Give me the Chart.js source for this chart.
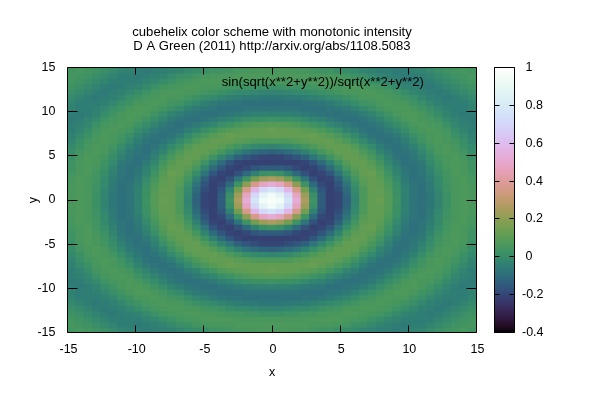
<!DOCTYPE html>
<html>
<head>
<meta charset="utf-8">
<title>cubehelix</title>
<script src="https://cdn.jsdelivr.net/npm/chart.js"></script>
<style>
    html, body { margin: 0; background: #fff; }
    canvas { position: absolute; left: 0; top: 0; }
</style>
</head>
<body>
<canvas id="mapChart" width="600" height="400"></canvas>
<canvas id="barChart" width="600" height="400"></canvas>
<script>
const titleLines = ['cubehelix color scheme with monotonic intensity', 'D A Green (2011) http://arxiv.org/abs/1108.5083'];
const keyLabel = 'sin(sqrt(x**2+y**2))/sqrt(x**2+y**2)';
const xTicks = [-15, -10, -5, 0, 5, 10, 15];
const yTicks = [-15, -10, -5, 0, 5, 10, 15];
const cbTicks = [-0.4, -0.2, 0, 0.2, 0.4, 0.6, 0.8, 1];
const cbRange = [-0.4, 1];

// cell values, centre cell first, going out to the top right
// corner. the picture is symmetric so the other three quarters are mirrored below
const quarter = [
    [.97, .94, .77, .53, .26, .03, -.14, -.21, -.20, -.13, -.03, .07, .12, .13, .09, .03, -.04, -.08, -.09, -.07, -.03, .02, .06, .07, .06],
    [.94, .87, .71, .48, .23, .01, -.14, -.21, -.20, -.12, -.02, .07, .12, .12, .09, .02, -.04, -.08, -.09, -.07, -.03, .02, .06, .07, .06],
    [.77, .71, .57, .36, .15, -.04, -.16, -.21, -.18, -.10, -.01, .07, .12, .12, .08, .02, -.04, -.08, -.09, -.06, -.02, .03, .06, .07, .06],
    [.53, .48, .36, .20, .03, -.11, -.19, -.21, -.16, -.08, .01, .09, .12, .11, .07, .01, -.05, -.08, -.09, -.06, -.01, .03, .06, .07, .05],
    [.26, .23, .15, .03, -.08, -.17, -.21, -.20, -.13, -.04, .04, .10, .12, .10, .05, -.01, -.06, -.09, -.08, -.05, -.01, .04, .06, .07, .05],
    [.03, .01, -.04, -.11, -.17, -.21, -.20, -.16, -.08, 0, .07, .12, .13, .09, .03, -.03, -.07, -.09, -.08, -.04, 0, .04, .07, .06, .04],
    [-.14, -.14, -.16, -.19, -.21, -.20, -.16, -.10, -.03, .05, .10, .12, .11, .07, .01, -.04, -.08, -.09, -.07, -.03, .02, .05, .07, .06, .03],
    [-.21, -.21, -.21, -.21, -.20, -.16, -.10, -.04, .03, .09, .12, .12, .09, .04, -.02, -.06, -.09, -.08, -.06, -.01, .03, .06, .07, .06, .03],
    [-.20, -.20, -.18, -.16, -.13, -.08, -.03, .03, .08, .12, .12, .10, .06, .01, -.04, -.08, -.09, -.07, -.04, 0, .04, .06, .07, .05, .01],
    [-.13, -.12, -.10, -.08, -.04, 0, .05, .09, .12, .12, .11, .07, .03, -.03, -.06, -.09, -.08, -.06, -.02, .02, .06, .07, .06, .04, 0],
    [-.03, -.02, -.01, .01, .04, .07, .10, .12, .12, .11, .08, .03, -.01, -.05, -.08, -.09, -.07, -.04, 0, .04, .06, .07, .05, .02, -.01],
    [.07, .07, .07, .09, .10, .12, .12, .12, .10, .07, .03, -.01, -.05, -.08, -.09, -.08, -.05, -.01, .03, .06, .07, .06, .04, .01, -.03],
    [.12, .12, .12, .12, .12, .13, .11, .09, .06, .03, -.01, -.05, -.08, -.09, -.08, -.06, -.03, .01, .04, .06, .07, .05, .02, -.01, -.04],
    [.13, .12, .12, .11, .10, .09, .07, .04, .01, -.03, -.05, -.08, -.09, -.08, -.06, -.03, 0, .04, .06, .07, .06, .04, 0, -.03, -.05],
    [.09, .09, .08, .07, .05, .03, .01, -.02, -.04, -.06, -.08, -.09, -.08, -.06, -.03, 0, .03, .06, .07, .06, .05, .02, -.02, -.04, -.05],
    [.03, .02, .02, .01, -.01, -.03, -.04, -.06, -.08, -.09, -.09, -.08, -.06, -.03, 0, .03, .06, .07, .06, .05, .03, -.01, -.03, -.05, -.06],
    [-.04, -.04, -.04, -.05, -.06, -.07, -.08, -.09, -.09, -.08, -.07, -.05, -.03, 0, .03, .06, .07, .07, .06, .03, 0, -.03, -.05, -.06, -.05],
    [-.08, -.08, -.08, -.08, -.09, -.09, -.09, -.08, -.07, -.06, -.04, -.01, .01, .04, .06, .07, .07, .06, .03, .01, -.02, -.04, -.05, -.05, -.04],
    [-.09, -.09, -.09, -.09, -.08, -.08, -.07, -.06, -.04, -.02, 0, .03, .04, .06, .07, .06, .06, .03, .01, -.02, -.04, -.05, -.05, -.05, -.03],
    [-.07, -.07, -.06, -.06, -.05, -.04, -.03, -.01, 0, .02, .04, .06, .06, .07, .06, .05, .03, .01, -.02, -.04, -.05, -.06, -.05, -.03, -.01],
    [-.03, -.03, -.02, -.01, -.01, 0, .02, .03, .04, .06, .06, .07, .07, .06, .05, .03, 0, -.02, -.04, -.05, -.06, -.05, -.03, -.01, .01],
    [.02, .02, .03, .03, .04, .04, .05, .06, .06, .07, .07, .06, .05, .04, .02, -.01, -.03, -.04, -.05, -.06, -.05, -.03, -.01, .01, .03],
    [.06, .06, .06, .06, .06, .07, .07, .07, .07, .06, .05, .04, .02, 0, -.02, -.03, -.05, -.05, -.05, -.05, -.03, -.01, .01, .03, .04],
    [.07, .07, .07, .07, .07, .06, .06, .06, .05, .04, .02, .01, -.01, -.03, -.04, -.05, -.06, -.05, -.05, -.03, -.01, .01, .03, .04, .05],
    [.06, .06, .06, .05, .05, .04, .03, .03, .01, 0, -.01, -.03, -.04, -.05, -.05, -.06, -.05, -.04, -.03, -.01, .01, .03, .04, .05, .04]
];

const FONT = 'Liberation Sans';

// gnuplot "set palette cubehelix" (start .5, cycles -1.5, saturation 1, gamma 1.5)
function helix(t) {
    const f = Math.pow(t, 1 / 1.5);
    const a = 2 * Math.PI * (0.5 / 3 + 1 - 1.5 * t);
    const amp = f * (1 - f) / 2;
    const c = Math.cos(a), s = Math.sin(a);
    const ch = v => Math.round(255 * Math.min(1, Math.max(0, v)));
    const r = ch(f + amp * (-0.14861 * c + 1.78277 * s));
    const g = ch(f + amp * (-0.29227 * c - 0.90649 * s));
    const b = ch(f + amp * (1.97294 * c));
    return `rgb(${r},${g},${b})`;
}

function colorFor(v) {
    return helix((v - cbRange[0]) / (cbRange[1] - cbRange[0]));
}

// each map cell is one floating bar
const steps = quarter.length - 1;
const cellSize = 30 / (2 * steps + 1);
const cells = [];
const cellColors = [];
for (let row = -steps; row <= steps; row++) {
    for (let col = -steps; col <= steps; col++) {
        const v = quarter[Math.abs(row)][Math.abs(col)];
        cells.push({ x: col * cellSize, y: [(row - 0.5) * cellSize, (row + 0.5) * cellSize] });
        cellColors.push(colorFor(v));
    }
}

// black box and inward tick marks, gnuplot style
function frame(lenX, lenY) {
    return {
        id: 'frame',
        afterDatasetsDraw(chart) {
            const { ctx, chartArea: a, scales } = chart;
            ctx.save();
            ctx.strokeStyle = '#000';
            ctx.lineWidth = 1;
            ctx.beginPath();
            ctx.rect(a.left, a.top, a.right - a.left, a.bottom - a.top);
            if (lenX) {
                scales.x.ticks.forEach(t => {
                    const x = Math.floor(scales.x.getPixelForValue(t.value)) + 0.5;
                    ctx.moveTo(x, a.top); ctx.lineTo(x, a.top + lenX);
                    ctx.moveTo(x, a.bottom); ctx.lineTo(x, a.bottom - lenX);
                });
            }
            scales.y.ticks.forEach(t => {
                const y = Math.floor(scales.y.getPixelForValue(t.value)) + 0.5;
                ctx.moveTo(a.left, y); ctx.lineTo(a.left + lenY, y);
                ctx.moveTo(a.right, y); ctx.lineTo(a.right - lenY, y);
            });
            ctx.stroke();
            ctx.restore();
        }
    };
}

const keyText = {
    id: 'keyText',
    afterDatasetsDraw(chart) {
        const { ctx } = chart;
        ctx.save();
        ctx.font = `13.15px "${FONT}"`;
        ctx.fillStyle = '#000';
        ctx.textAlign = 'right';
        ctx.textBaseline = 'middle';
        ctx.fillText(chart.data.datasets[0].label, 424, 82);
        ctx.restore();
    }
};

new Chart(document.getElementById('mapChart'), {
    type: 'bar',
    data: {
        datasets: [{
            label: keyLabel,
            data: cells,
            backgroundColor: cellColors,
            borderWidth: 0,
            grouped: false,
            barPercentage: 1,
            categoryPercentage: 1,
            inflateAmount: 0.5
        }]
    },
    plugins: [frame(7, 10), keyText],
    options: {
        responsive: false,
        animation: false,
        events: [],
        layout: { padding: { right: 123.5 } },
        plugins: {
            legend: { display: false },
            tooltip: { enabled: false },
            title: {
                display: true,
                text: titleLines,
                color: '#000',
                fullSize: false,
                font: { family: FONT, size: 13.1, weight: 'normal', lineHeight: 1.07 },
                padding: { top: 25.5, bottom: 14 }
            }
        },
        scales: {
            x: {
                type: 'linear',
                min: -15,
                max: 15,
                offset: false,
                afterBuildTicks: s => { s.ticks = xTicks.map(value => ({ value })); },
                afterFit: s => { s.height = 67.5; },
                grid: { display: false, drawTicks: false },
                border: { display: false },
                ticks: { color: '#000', font: { family: FONT, size: 12.5 }, padding: 10, maxRotation: 0, labelOffset: 1 },
                title: { display: true, text: 'x', color: '#000', font: { family: FONT, size: 12.5 }, padding: { top: 0, bottom: 20 } }
            },
            y: {
                type: 'linear',
                min: -15,
                max: 15,
                afterBuildTicks: s => { s.ticks = yTicks.map(value => ({ value })); },
                afterFit: s => { s.width = 67.5; },
                grid: { display: false, drawTicks: false },
                border: { display: false },
                ticks: { color: '#000', font: { family: FONT, size: 12.5 }, padding: 12 },
                title: { display: true, text: 'y', color: '#000', font: { family: FONT, size: 12.5 }, padding: { top: 26, bottom: 0 } }
            }
        }
    }
});

// colour box is its own chart on top, one bar with a gradient fill
function barGradient(context) {
    const { ctx, chartArea } = context.chart;
    if (!chartArea) return '#000';
    const g = ctx.createLinearGradient(0, chartArea.bottom, 0, chartArea.top);
    for (let i = 0; i <= 64; i++) {
        g.addColorStop(i / 64, helix(i / 64));
    }
    return g;
}

new Chart(document.getElementById('barChart'), {
    type: 'bar',
    data: {
        labels: ['palette'],
        datasets: [{
            data: [cbRange],
            backgroundColor: barGradient,
            borderWidth: 0,
            barPercentage: 1,
            categoryPercentage: 1
        }]
    },
    plugins: [frame(0, 5)],
    options: {
        responsive: false,
        animation: false,
        events: [],
        layout: { padding: { left: 494.5, top: 67.5 } },
        plugins: { legend: { display: false }, tooltip: { enabled: false } },
        scales: {
            x: {
                type: 'category',
                grid: { display: false, drawTicks: false },
                border: { display: false },
                ticks: { display: false },
                afterFit: s => { s.height = 67.5; }
            },
            y: {
                position: 'right',
                min: cbRange[0],
                max: cbRange[1],
                afterBuildTicks: s => { s.ticks = cbTicks.map(value => ({ value })); },
                afterFit: s => { s.width = 85.5; },
                grid: { display: false, drawTicks: false },
                border: { display: false },
                ticks: {
                    color: '#000',
                    font: { family: FONT, size: 12.5 },
                    padding: 7.5,
                    // minus sign hangs to the left of the other labels
                    callback: v => (v < 0 ? String(Math.round(v * 10) / 10) : ' ' + Math.round(v * 10) / 10)
                }
            }
        }
    }
});
</script>
</body>
</html>
